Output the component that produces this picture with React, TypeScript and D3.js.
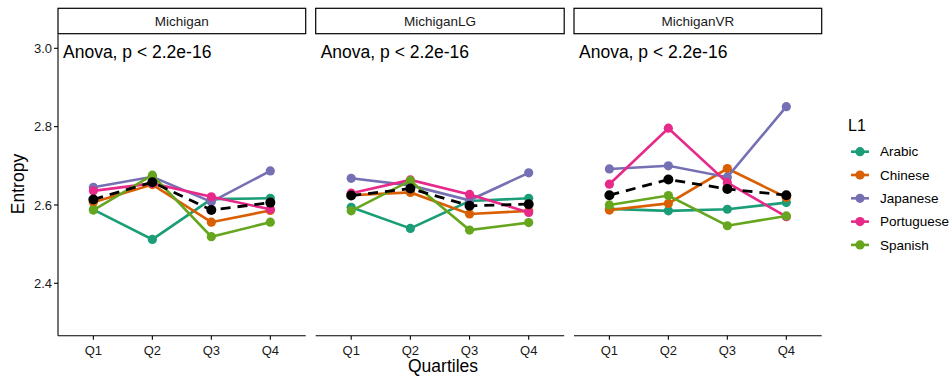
import React from "react";
import * as d3 from "d3";

const quartiles = ["Q1", "Q2", "Q3", "Q4"];
const panels = ["Michigan", "MichiganLG", "MichiganVR"];
const languages = ["Arabic", "Chinese", "Japanese", "Portuguese", "Spanish"];
const colors = ["#1B9E77", "#D95F02", "#7570B3", "#E7298A", "#66A61E"];
const yTicks = [2.4, 2.6, 2.8, 3.0];

// values per panel, per language, Q1..Q4
const michigan = [
  [2.588, 2.512, 2.615, 2.617],
  [2.607, 2.652, 2.556, 2.586],
  [2.645, 2.672, 2.608, 2.687],
  [2.636, 2.655, 2.621, 2.589],
  [2.587, 2.676, 2.519, 2.556],
];
const michiganLG = [
  [2.594, 2.540, 2.610, 2.617],
  [2.625, 2.632, 2.577, 2.585],
  [2.668, 2.650, 2.612, 2.682],
  [2.630, 2.664, 2.627, 2.581],
  [2.585, 2.662, 2.536, 2.555],
];
const michiganVR = [
  [2.590, 2.585, 2.589, 2.606],
  [2.587, 2.604, 2.693, 2.619],
  [2.692, 2.700, 2.671, 2.851],
  [2.653, 2.796, 2.657, 2.570],
  [2.600, 2.624, 2.547, 2.572],
];
const meanMichigan = [2.614, 2.658, 2.587, 2.606];
const meanMichiganLG = [2.624, 2.642, 2.598, 2.602];
const meanMichiganVR = [2.625, 2.665, 2.641, 2.625];

const seriesByPanel = [michigan, michiganLG, michiganVR];
const meansByPanel = [meanMichigan, meanMichiganLG, meanMichiganVR];

const FONT = "'Liberation Sans', Arial, Helvetica, sans-serif";

export default function App() {
  const W = 952, H = 380;
  const panelX = [
    [58, 305.7],
    [315.7, 564.2],
    [574, 821.7],
  ];
  const top = 34.3, bottom = 335.7;
  const stripTop = 8.3;
  const y = d3.scaleLinear().domain([2.4, 3.0]).range([283.3, 48.3]);
  const line = d3.line<number>();

  return (
    <svg width={W} height={H} style={{ position: "absolute", left: 0, top: 0, background: "#fff" }} fontFamily={FONT}>
      <rect width={W} height={H} fill="#fff" />
      {panels.map((p, pi) => {
        const [x0, x1] = panelX[pi];
        const x = d3.scalePoint<string>().domain(quartiles).range([x0, x1]).padding(0.6);
        const series = seriesByPanel[pi];
        const means = meansByPanel[pi];
        return (
          <g key={p}>
            <rect x={x0} y={stripTop} width={x1 - x0} height={top - stripTop - 0.6} fill="#fff" stroke="#000" strokeWidth={1.2} />
            <text x={(x0 + x1) / 2} y={(stripTop + top) / 2 - 0.3} dy="0.35em" textAnchor="middle" fontSize={13.5} fill="#1a1a1a">{p}</text>
            {/* x axis */}
            <line x1={x0} x2={x1} y1={bottom} y2={bottom} stroke="#000" strokeWidth={1.1} />
            {quartiles.map((q) => (
              <g key={q}>
                <line x1={x(q)} x2={x(q)} y1={bottom} y2={bottom + 4} stroke="#000" strokeWidth={1.1} />
                <text x={x(q)} y={bottom + 14.5} dy="0.35em" textAnchor="middle" fontSize={13} fill="#1a1a1a">{q}</text>
              </g>
            ))}
            {pi === 0 && (
              <g>
                <line x1={x0} x2={x0} y1={top} y2={bottom} stroke="#000" strokeWidth={1.1} />
                {yTicks.map((t) => (
                  <g key={t}>
                    <line x1={x0 - 4} x2={x0} y1={y(t)} y2={y(t)} stroke="#000" strokeWidth={1.1} />
                    <text x={x0 - 6} y={y(t)} dy="0.35em" textAnchor="end" fontSize={13} fill="#1a1a1a">{t.toFixed(1)}</text>
                  </g>
                ))}
              </g>
            )}
            <text x={x0 + 5} y={y(3.0) + 4} dy="0.35em" fontSize={17.5} fill="#000">Anova, p &lt; 2.2e-16</text>
            {series.map((vals, li) => (
              <g key={li}>
                <path d={line(vals.map((v, i) => [x(quartiles[i])!, y(v)]) as any) || ""} fill="none" stroke={colors[li]} strokeWidth={2.6} />
                {vals.map((v, i) => (
                  <circle key={i} cx={x(quartiles[i])} cy={y(v)} r={4.6} fill={colors[li]} />
                ))}
              </g>
            ))}
            <path d={line(means.map((v, i) => [x(quartiles[i])!, y(v)]) as any) || ""} fill="none" stroke="#000" strokeWidth={2.8} strokeDasharray="10,7" />
            {means.map((v, i) => (
              <circle key={i} cx={x(quartiles[i])} cy={y(v)} r={5} fill="#000" />
            ))}
          </g>
        );
      })}
      <text transform="translate(18,184) rotate(-90)" textAnchor="middle" dy="0.35em" fontSize={17.5} fill="#000">Entropy</text>
      <text x={443} y={366} textAnchor="middle" dy="0.35em" fontSize={17.5} fill="#000">Quartiles</text>
      <text x={848} y={125} dy="0.35em" fontSize={16} fill="#000">L1</text>
      {languages.map((l, i) => {
        const ly = 151.7 + i * 23.3;
        return (
          <g key={l}>
            <line x1={851} x2={869} y1={ly} y2={ly} stroke={colors[i]} strokeWidth={2.6} />
            <circle cx={860} cy={ly} r={4.6} fill={colors[i]} />
            <text x={880} y={ly} dy="0.35em" fontSize={13.5} fill="#000">{l}</text>
          </g>
        );
      })}
    </svg>
  );
}
